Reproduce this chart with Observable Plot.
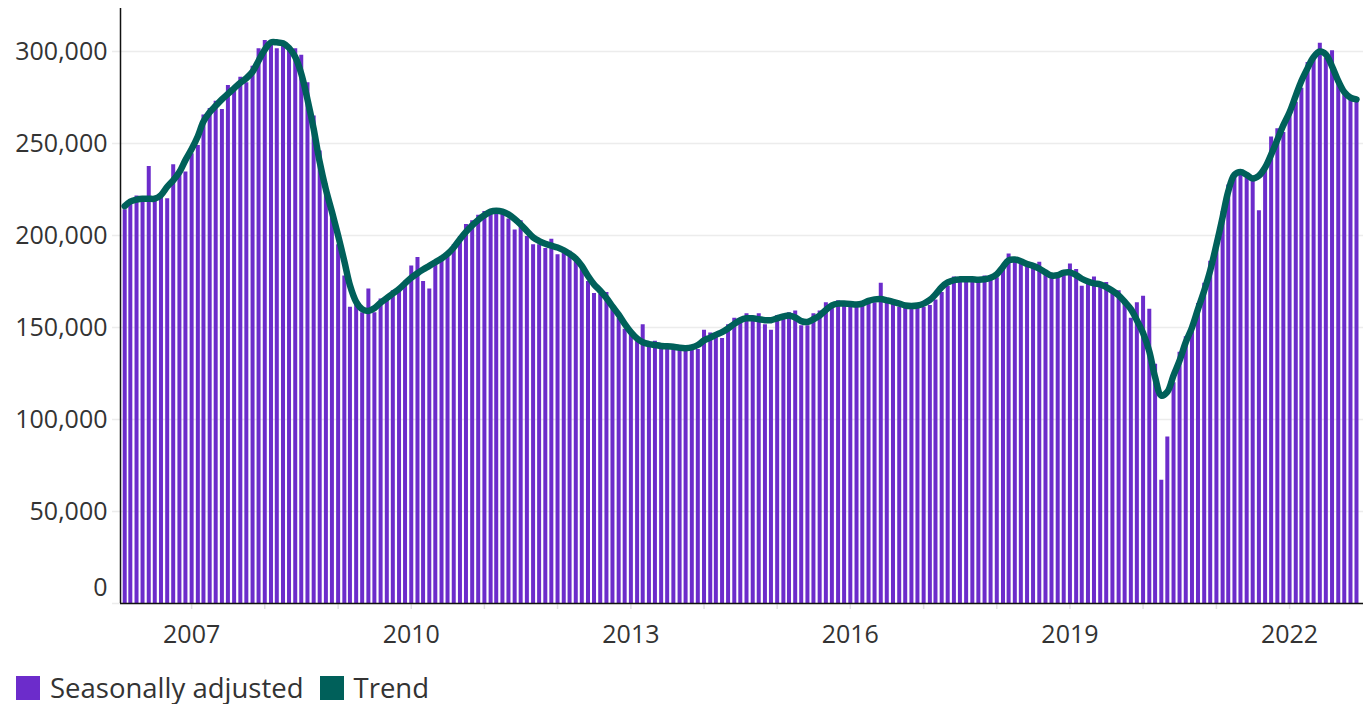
<!DOCTYPE html>
<html>
<head>
<meta charset="utf-8">
<script src="https://cdn.jsdelivr.net/npm/d3@7"></script>
<script src="https://cdn.jsdelivr.net/npm/@observablehq/plot@0.6"></script>
<style>
  html, body { margin: 0; padding: 0; background: #fff; }
  #chart { position: relative; width: 1367px; height: 704px; }
  #legend { position: absolute; left: 16px; top: 668px; display: flex; align-items: center;
            font-family: "Open Sans", sans-serif; font-size: 27.5px; color: #333; line-height: 40px; }
  .sw { width: 24px; height: 24px; display: inline-block; margin-right: 10px; }
  .item { display: flex; align-items: center; margin-right: 16px; }
</style>
</head>
<body>
<div id="chart"></div>
<script>
// ---- Data (thousands), monthly, first month = Feb 2006 ----
const firstMonth = [2006, 1]; // year, zero-based month (February)
const seriesNames = ["Seasonally adjusted", "Trend"];
const colors = ["#6c2ccb", "#00605a"];

const sa2006 = [214, 219.5, 221.5, 220, 237.5, 219, 222, 220, 238.5, 235.5, 234.5];
const sa2007 = [244.5, 249, 265.5, 269, 273, 268.5, 281.5, 281, 286, 283, 292, 301.5];
const sa2008 = [306, 306, 301.5, 303, 302, 301.5, 298, 283, 265, 246, 228, 214];
const sa2009 = [195, 178, 161, 162.5, 158, 171, 158, 165.5, 166, 170, 171.5, 173.5];
const sa2010 = [183.5, 188, 175, 171, 186, 186, 190, 195, 199.5, 206, 208, 211];
const sa2011 = [213, 214, 214, 212, 209, 203, 208, 199.5, 195, 195, 193, 198];
const sa2012 = [189.5, 191.5, 191.5, 188, 182.5, 175, 168.5, 168, 169, 161, 155, 149];
const sa2013 = [146, 143.5, 151.5, 140, 142.5, 139, 139, 138, 138, 138, 139, 138];
const sa2014 = [148.5, 147, 145.5, 144, 151.5, 155, 152.5, 157.5, 153.5, 157.5, 151.5, 148.5];
const sa2015 = [156.5, 157, 158, 159, 151, 151, 157.5, 159, 163.5, 162.5, 164.5, 163.5];
const sa2016 = [163, 162, 162.5, 164.5, 163.5, 174, 164, 162.5, 161, 161, 160.5, 161];
const sa2017 = [161, 162, 165, 169, 172.5, 177.5, 175.5, 175.5, 175.5, 175.5, 178, 175.5];
const sa2018 = [177, 181.5, 190, 186.5, 185, 183, 183, 185.5, 180.5, 177, 177, 180];
const sa2019 = [184.5, 181.5, 172.5, 175, 177.5, 174.5, 174.5, 170, 170, 164.5, 155, 163.5];
const sa2020 = [167, 160, 130, 67, 90.5, 120, 136.5, 145, 152, 163, 174, 186];
const sa2021 = [197, 213, 227.5, 232.5, 235.5, 232.5, 231, 213.5, 235.5, 253.5, 258, 256];
const sa2022 = [265.5, 272.5, 280, 294, 297.5, 304.5, 296.5, 300.5, 282.5, 278, 273.5, 272.5];

const tr2006 = [216, 218.5, 219.5, 220, 220, 220, 222, 226.5, 230, 234.5, 241];
const tr2007 = [247, 254, 262, 267, 270.5, 274, 277, 280, 283, 285.5, 289, 295];
const tr2008 = [301, 305, 305, 304.5, 302, 297, 288, 274, 258, 240, 225, 213];
const tr2009 = [200, 186, 173, 164, 160, 159, 160.5, 163.5, 166, 168.5, 171, 174];
const tr2010 = [177, 179.5, 181.5, 183.5, 185.5, 187.5, 190, 193.5, 198, 202, 205.5, 208.5];
const tr2011 = [211, 213, 213.5, 213, 211.5, 209, 206, 202.5, 199, 197, 195.5, 194.5];
const tr2012 = [193.5, 192, 190, 187.5, 183.5, 178, 173.5, 170, 166, 161.5, 157, 152];
const tr2013 = [147.5, 144, 142, 141, 140.5, 140, 139.8, 139.5, 139, 138.8, 139.2, 140.5];
const tr2014 = [143, 144.5, 146, 147.5, 149.5, 152, 154, 155, 155, 154.5, 154, 154];
const tr2015 = [155, 156, 156.5, 155.5, 153.5, 153, 154.5, 156.5, 159.5, 162, 163, 163];
const tr2016 = [162.8, 162.5, 163, 164.5, 165.3, 165.5, 164.8, 164, 163, 162, 161.7, 162];
const tr2017 = [163, 165, 168, 172, 174.5, 175.8, 176.2, 176.3, 176.2, 176, 176.2, 177];
const tr2018 = [179, 183, 186.5, 187, 186, 184.5, 183.5, 182, 180, 178.3, 178.5, 179.8];
const tr2019 = [180, 178.5, 176.5, 175, 174, 173.5, 172, 170, 167.5, 164, 160, 154];
const tr2020 = [147, 137, 123, 113, 115, 124, 132, 142, 150, 160, 170, 181];
const tr2021 = [195, 210, 224, 233, 234.5, 233, 231, 232.5, 237, 244, 252, 260];
const tr2022 = [267, 276, 284, 291, 297, 300, 298.5, 292, 284, 278, 275, 274];

const yTicks = [0, 50, 100, 150, 200, 250, 300];
const tickYears = [2007, 2008, 2009, 2010, 2011, 2012, 2013, 2014, 2015, 2016, 2017, 2018, 2019, 2020, 2021, 2022];
const labelYears = [2007, 2010, 2013, 2016, 2019, 2022];

// ---- Build table ----
const saAll = [].concat(sa2006, sa2007, sa2008, sa2009, sa2010, sa2011, sa2012, sa2013, sa2014,
  sa2015, sa2016, sa2017, sa2018, sa2019, sa2020, sa2021, sa2022);
const trAll = [].concat(tr2006, tr2007, tr2008, tr2009, tr2010, tr2011, tr2012, tr2013, tr2014,
  tr2015, tr2016, tr2017, tr2018, tr2019, tr2020, tr2021, tr2022);
const start = new Date(Date.UTC(firstMonth[0], firstMonth[1], 1));
const data = saAll.map((v, i) => ({
  date: d3.utcMonth.offset(start, i),
  sa: v,
  trend: trAll[i]
}));

const xDomain = [new Date(Date.UTC(2006, 0, 11)), new Date(Date.UTC(2023, 0, 5))];
const fmt = d => d3.format(",")(d * 1000);
const yearDate = y => new Date(Date.UTC(y, 0, 1));

const chart = Plot.plot({
  width: 1367,
  height: 660,
  marginLeft: 120,
  marginRight: 4,
  marginTop: 8,
  marginBottom: 57,
  x: { type: "utc", domain: xDomain },
  y: { domain: [0, 323.4] },
  style: { fontFamily: "'Open Sans', sans-serif", fontSize: "25px", color: "#333", background: "#fff" },
  marks: [
    Plot.ruleY(yTicks, { stroke: "#ececec", strokeWidth: 1.5, insetLeft: -8 }),
    Plot.ruleX(data, { x: "date", y1: 0, y2: "sa", stroke: colors[0], strokeWidth: 4 }),
    Plot.line(data, { x: "date", y: "trend", stroke: colors[1], strokeWidth: 6.5, curve: "catmull-rom",
      strokeLinecap: "round", strokeLinejoin: "round" }),
    Plot.axisX(tickYears.map(yearDate), { tickSize: 6, stroke: "#e2e2e2", strokeWidth: 1.5, tickFormat: () => "" }),
    Plot.ruleY([0], { stroke: "#111", strokeWidth: 1.5 }),
    Plot.ruleX([xDomain[0]], { stroke: "#111", strokeWidth: 1.5 }),
    Plot.axisY(yTicks.filter(d => d > 0), { tickSize: 0, tickPadding: 13, tickFormat: fmt, fill: "#333" }),
    Plot.axisY([0], { tickSize: 0, tickPadding: 13, dy: -16, tickFormat: fmt, fill: "#333" }),
    Plot.axisX(labelYears.map(yearDate), { tickSize: 0, tickPadding: 22, tickFormat: d3.utcFormat("%Y"), fill: "#333" })
  ]
});

const root = document.getElementById("chart");
root.appendChild(chart);

const legend = document.createElement("div");
legend.id = "legend";
seriesNames.forEach((name, i) => {
  const item = document.createElement("div");
  item.className = "item";
  const sw = document.createElement("span");
  sw.className = "sw";
  sw.style.background = colors[i];
  const label = document.createElement("span");
  label.textContent = name;
  item.appendChild(sw);
  item.appendChild(label);
  legend.appendChild(item);
});
root.appendChild(legend);
</script>
</body>
</html>
